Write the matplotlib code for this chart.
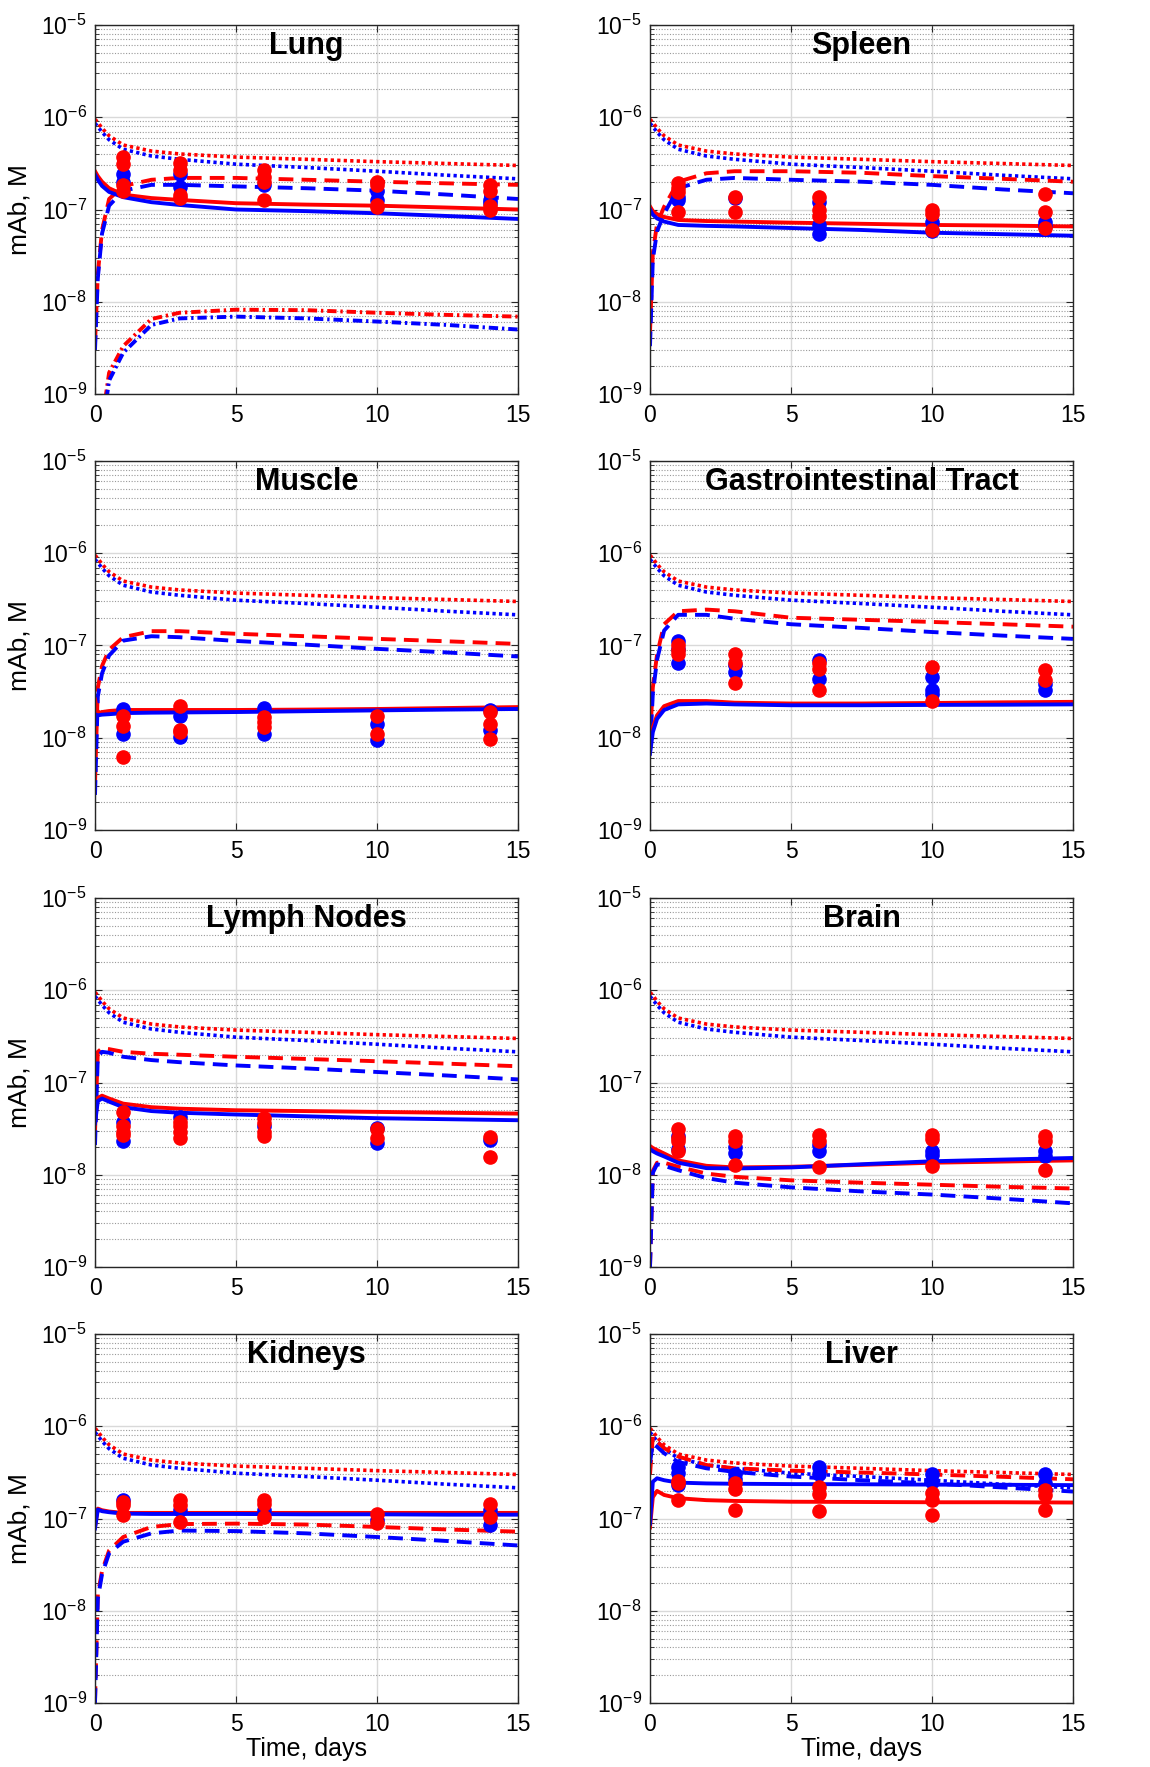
import numpy as np
import matplotlib
matplotlib.use('Agg')
import matplotlib.pyplot as plt
from matplotlib.ticker import FixedLocator, NullFormatter, LogFormatterSciNotation

plt.rcParams['font.family'] = ['Liberation Sans', 'DejaVu Sans']

# model time grid (days) and sampling days
T = [0, 0.1, 0.25, 0.5, 1, 2, 3, 5, 7.5, 10, 12.5, 15]
DAYS = [1, 3, 6, 10, 14]

# plasma (dotted), same in every panel
plasma_red = [9.5e-7, 8.8e-7, 7.6e-7, 6.3e-7, 5.0e-7, 4.3e-7, 4.0e-7, 3.7e-7, 3.5e-7, 3.3e-7, 3.15e-7, 3.0e-7]
plasma_blue = [8.6e-7, 7.9e-7, 6.9e-7, 5.7e-7, 4.5e-7, 3.8e-7, 3.5e-7, 3.1e-7, 2.85e-7, 2.6e-7, 2.35e-7, 2.15e-7]

# Lung
lung_solid_red = [2.6e-7, 2.3e-7, 2.0e-7, 1.7e-7, 1.45e-7, 1.33e-7, 1.27e-7, 1.17e-7, 1.13e-7, 1.1e-7, 1.05e-7, 1.0e-7]
lung_solid_blue = [2.4e-7, 2.1e-7, 1.8e-7, 1.55e-7, 1.36e-7, 1.2e-7, 1.12e-7, 1.0e-7, 9.6e-8, 9.1e-8, 8.5e-8, 7.9e-8]
lung_dash_red = [3.5e-9, 2.0e-8, 6.0e-8, 1.3e-7, 1.8e-7, 2.1e-7, 2.2e-7, 2.2e-7, 2.1e-7, 2.0e-7, 1.92e-7, 1.85e-7]
lung_dash_blue = [3.0e-9, 1.8e-8, 5.5e-8, 1.1e-7, 1.6e-7, 1.85e-7, 1.85e-7, 1.78e-7, 1.7e-7, 1.6e-7, 1.45e-7, 1.3e-7]
lung_dd_red = [1e-12, 5e-11, 5e-10, 1.7e-9, 3.3e-9, 6.5e-9, 7.6e-9, 8.2e-9, 8.1e-9, 7.6e-9, 7.2e-9, 6.9e-9]
lung_dd_blue = [1e-12, 4e-11, 4e-10, 1.4e-9, 2.8e-9, 5.6e-9, 6.6e-9, 6.9e-9, 6.6e-9, 6.1e-9, 5.6e-9, 5.0e-9]
lung_obs_red = [[3.7e-7, 3.1e-7, 1.85e-7, 1.6e-7], [3.2e-7, 2.7e-7, 1.45e-7, 1.33e-7],
                [2.7e-7, 2.27e-7, 2.0e-7, 1.27e-7], [2.0e-7, 1.85e-7, 1.12e-7, 1.06e-7],
                [1.85e-7, 1.6e-7, 1.08e-7, 1.0e-7]]
lung_obs_blue = [[2.4e-7, 2.0e-7], [2.4e-7, 1.77e-7], [1.85e-7], [1.6e-7, 1.27e-7], [1.27e-7, 1.17e-7]]

# Spleen
spleen_solid_red = [1.08e-7, 9.6e-8, 8.9e-8, 8.3e-8, 7.7e-8, 7.5e-8, 7.4e-8, 7.2e-8, 7.0e-8, 6.8e-8, 6.7e-8, 6.55e-8]
spleen_solid_blue = [1.0e-7, 8.8e-8, 8.0e-8, 7.4e-8, 6.8e-8, 6.65e-8, 6.55e-8, 6.3e-8, 6.0e-8, 5.6e-8, 5.4e-8, 5.2e-8]
spleen_dash_red = [4.6e-9, 3.4e-8, 7.0e-8, 1.07e-7, 2.0e-7, 2.47e-7, 2.6e-7, 2.6e-7, 2.5e-7, 2.3e-7, 2.15e-7, 2.0e-7]
spleen_dash_blue = [3.3e-9, 2.85e-8, 5.8e-8, 9.0e-8, 1.7e-7, 2.1e-7, 2.2e-7, 2.1e-7, 2.0e-7, 1.85e-7, 1.65e-7, 1.5e-7]
spleen_obs_red = [[1.95e-7, 1.7e-7, 1.53e-7, 9.5e-8], [1.38e-7, 9.5e-8], [1.38e-7, 1.0e-7, 8.5e-8],
                  [1.0e-7, 9.0e-8, 6.0e-8], [1.48e-7, 9.5e-8, 6.3e-8]]
spleen_obs_blue = [[1.38e-7, 1.27e-7], [1.32e-7], [1.22e-7, 6.8e-8, 5.4e-8], [7.4e-8, 5.8e-8], [7.4e-8, 6.6e-8]]

# Muscle
muscle_solid_red = [2.6e-8, 1.85e-8, 1.9e-8, 1.95e-8, 2.0e-8, 2.0e-8, 2.0e-8, 2.0e-8, 2.02e-8, 2.05e-8, 2.1e-8, 2.15e-8]
muscle_solid_blue = [1.8e-8, 1.75e-8, 1.78e-8, 1.8e-8, 1.85e-8, 1.87e-8, 1.88e-8, 1.9e-8, 1.94e-8, 1.98e-8, 2.02e-8, 2.05e-8]
muscle_dash_red = [3.2e-9, 3.5e-8, 6.0e-8, 9.0e-8, 1.23e-7, 1.43e-7, 1.43e-7, 1.34e-7, 1.26e-7, 1.18e-7, 1.11e-7, 1.04e-7]
muscle_dash_blue = [2.4e-9, 2.8e-8, 5.0e-8, 7.8e-8, 1.13e-7, 1.26e-7, 1.23e-7, 1.12e-7, 1.02e-7, 9.2e-8, 8.4e-8, 7.6e-8]
muscle_obs_red = [[1.7e-8, 1.33e-8, 6.2e-9], [2.2e-8, 1.22e-8, 1.15e-8], [1.68e-8, 1.48e-8, 1.3e-8],
                  [1.7e-8, 1.1e-8], [1.9e-8, 1.4e-8, 9.8e-9]]
muscle_obs_blue = [[2.05e-8, 1.1e-8], [1.7e-8, 1.02e-8], [2.1e-8, 1.1e-8], [1.42e-8, 9.4e-9], [2.0e-8, 1.22e-8]]

# Gastrointestinal Tract
gi_solid_red = [7.9e-9, 1.3e-8, 1.75e-8, 2.2e-8, 2.5e-8, 2.5e-8, 2.4e-8, 2.35e-8, 2.35e-8, 2.38e-8, 2.42e-8, 2.45e-8]
gi_solid_blue = [6.7e-9, 1.15e-8, 1.6e-8, 2.0e-8, 2.3e-8, 2.35e-8, 2.3e-8, 2.25e-8, 2.25e-8, 2.27e-8, 2.28e-8, 2.3e-8]
gi_dash_red = [1.0e-8, 3.5e-8, 8.0e-8, 1.7e-7, 2.35e-7, 2.45e-7, 2.35e-7, 2.0e-7, 1.9e-7, 1.8e-7, 1.7e-7, 1.6e-7]
gi_dash_blue = [7.0e-9, 3.0e-8, 7.0e-8, 1.45e-7, 2.15e-7, 2.15e-7, 1.95e-7, 1.7e-7, 1.55e-7, 1.4e-7, 1.28e-7, 1.18e-7]
gi_obs_red = [[1.0e-7, 9.0e-8, 8.0e-8], [8.0e-8, 6.5e-8, 3.9e-8], [6.5e-8, 5.5e-8, 3.3e-8],
              [5.8e-8, 2.5e-8], [5.4e-8, 4.2e-8]]
gi_obs_blue = [[1.12e-7, 9.1e-8, 6.5e-8], [6.1e-8, 5.1e-8], [7.0e-8, 4.3e-8], [4.6e-8, 3.3e-8, 3.0e-8], [3.8e-8, 3.3e-8]]

# Lymph Nodes
lymph_solid_red = [3.9e-8, 6.8e-8, 7.2e-8, 6.7e-8, 5.9e-8, 5.4e-8, 5.2e-8, 5.0e-8, 4.9e-8, 4.8e-8, 4.7e-8, 4.6e-8]
lymph_solid_blue = [3.6e-8, 6.3e-8, 6.7e-8, 6.2e-8, 5.4e-8, 4.9e-8, 4.7e-8, 4.5e-8, 4.3e-8, 4.1e-8, 4.0e-8, 3.9e-8]
lymph_dash_red = [2.9e-8, 2.15e-7, 2.35e-7, 2.3e-7, 2.15e-7, 2.05e-7, 2.0e-7, 1.9e-7, 1.8e-7, 1.7e-7, 1.6e-7, 1.5e-7]
lymph_dash_blue = [2.1e-8, 1.9e-7, 2.15e-7, 2.1e-7, 1.9e-7, 1.75e-7, 1.66e-7, 1.53e-7, 1.42e-7, 1.3e-7, 1.19e-7, 1.08e-7]
lymph_obs_red = [[4.8e-8, 3.4e-8, 2.9e-8, 2.7e-8], [3.7e-8, 3.4e-8, 2.9e-8, 2.5e-8],
                 [4.1e-8, 3.6e-8, 2.9e-8, 2.65e-8], [3.1e-8, 2.5e-8], [2.55e-8, 1.55e-8]]
lymph_obs_blue = [[3.7e-8, 2.3e-8], [4.2e-8], [3.4e-8], [3.2e-8, 2.2e-8], [2.4e-8]]

# Brain
brain_solid_red = [2.05e-8, 1.95e-8, 1.85e-8, 1.7e-8, 1.43e-8, 1.25e-8, 1.2e-8, 1.22e-8, 1.28e-8, 1.35e-8, 1.39e-8, 1.43e-8]
brain_solid_blue = [1.9e-8, 1.8e-8, 1.7e-8, 1.58e-8, 1.35e-8, 1.18e-8, 1.17e-8, 1.2e-8, 1.3e-8, 1.4e-8, 1.46e-8, 1.52e-8]
brain_dash_red = [1.0e-9, 1.1e-8, 1.35e-8, 1.35e-8, 1.22e-8, 1.03e-8, 9.5e-9, 8.7e-9, 8.2e-9, 7.8e-9, 7.4e-9, 7.1e-9]
brain_dash_blue = [1.0e-9, 1.05e-8, 1.3e-8, 1.25e-8, 1.12e-8, 9.2e-9, 8.2e-9, 7.3e-9, 6.6e-9, 6.1e-9, 5.5e-9, 4.9e-9]
brain_obs_red = [[3.1e-8, 2.5e-8, 2.3e-8, 1.8e-8], [2.6e-8, 2.3e-8, 1.28e-8], [2.7e-8, 2.3e-8, 1.2e-8],
                 [2.7e-8, 2.45e-8, 1.24e-8], [2.65e-8, 2.3e-8, 1.14e-8]]
brain_obs_blue = [[2.65e-8, 1.9e-8], [2.0e-8, 1.7e-8], [2.1e-8, 1.8e-8], [1.83e-8, 1.65e-8], [1.8e-8, 1.6e-8]]

# Kidneys
kidney_solid_red = [8.1e-8, 1.28e-7, 1.23e-7, 1.19e-7, 1.15e-7, 1.15e-7, 1.15e-7, 1.15e-7, 1.15e-7, 1.15e-7, 1.15e-7, 1.15e-7]
kidney_solid_blue = [7.8e-8, 1.25e-7, 1.2e-7, 1.17e-7, 1.13e-7, 1.12e-7, 1.12e-7, 1.12e-7, 1.11e-7, 1.11e-7, 1.1e-7, 1.1e-7]
kidney_dash_red = [1.05e-9, 1.5e-8, 2.7e-8, 4.5e-8, 6.3e-8, 8.1e-8, 8.7e-8, 8.8e-8, 8.6e-8, 8.1e-8, 7.6e-8, 7.2e-8]
kidney_dash_blue = [1.0e-9, 1.35e-8, 2.5e-8, 4.2e-8, 5.6e-8, 6.9e-8, 7.4e-8, 7.3e-8, 6.9e-8, 6.3e-8, 5.7e-8, 5.1e-8]
kidney_obs_red = [[1.5e-7, 1.4e-7, 1.1e-7], [1.58e-7, 1.4e-7, 9.2e-8], [1.6e-7, 1.43e-7, 1.05e-7],
                  [1.13e-7, 9.0e-8], [1.42e-7, 1.05e-7]]
kidney_obs_blue = [[1.58e-7], [1.23e-7], [1.23e-7], [9.6e-8], [1.23e-7, 8.5e-8]]

# Liver
liver_solid_red = [8.0e-8, 1.7e-7, 1.99e-7, 1.8e-7, 1.66e-7, 1.58e-7, 1.55e-7, 1.52e-7, 1.51e-7, 1.5e-7, 1.5e-7, 1.49e-7]
liver_solid_blue = [8.8e-8, 2.5e-7, 2.73e-7, 2.6e-7, 2.45e-7, 2.4e-7, 2.38e-7, 2.36e-7, 2.35e-7, 2.33e-7, 2.32e-7, 2.3e-7]
liver_dash_red = [3.0e-7, 7.7e-7, 6.8e-7, 5.8e-7, 4.7e-7, 3.8e-7, 3.5e-7, 3.3e-7, 3.15e-7, 3.0e-7, 2.83e-7, 2.66e-7]
liver_dash_blue = [4.0e-7, 6.5e-7, 6.0e-7, 5.1e-7, 4.1e-7, 3.5e-7, 3.2e-7, 2.85e-7, 2.6e-7, 2.4e-7, 2.17e-7, 1.96e-7]
liver_obs_red = [[2.55e-7, 2.4e-7, 1.6e-7], [2.4e-7, 2.1e-7, 1.24e-7], [2.2e-7, 1.85e-7, 1.22e-7],
                 [1.9e-7, 1.6e-7, 1.1e-7], [2.05e-7, 1.8e-7, 1.24e-7]]
liver_obs_blue = [[3.6e-7, 3.1e-7, 2.3e-7], [3.05e-7, 2.65e-7], [3.6e-7, 3.05e-7], [3.05e-7, 2.5e-7], [3.0e-7, 2.4e-7]]

panels = [
    ("Lung", lung_solid_red, lung_solid_blue, lung_dash_red, lung_dash_blue, lung_obs_red, lung_obs_blue),
    ("Spleen", spleen_solid_red, spleen_solid_blue, spleen_dash_red, spleen_dash_blue, spleen_obs_red, spleen_obs_blue),
    ("Muscle", muscle_solid_red, muscle_solid_blue, muscle_dash_red, muscle_dash_blue, muscle_obs_red, muscle_obs_blue),
    ("Gastrointestinal Tract", gi_solid_red, gi_solid_blue, gi_dash_red, gi_dash_blue, gi_obs_red, gi_obs_blue),
    ("Lymph Nodes", lymph_solid_red, lymph_solid_blue, lymph_dash_red, lymph_dash_blue, lymph_obs_red, lymph_obs_blue),
    ("Brain", brain_solid_red, brain_solid_blue, brain_dash_red, brain_dash_blue, brain_obs_red, brain_obs_blue),
    ("Kidneys", kidney_solid_red, kidney_solid_blue, kidney_dash_red, kidney_dash_blue, kidney_obs_red, kidney_obs_blue),
    ("Liver", liver_solid_red, liver_solid_blue, liver_dash_red, liver_dash_blue, liver_obs_red, liver_obs_blue),
]

yticks_major = [1e-9, 1e-8, 1e-7, 1e-6, 1e-5]
yticks_minor = [k * 10.0 ** e for e in range(-9, -5) for k in range(2, 10)]

W, H = 1150, 1767
fig = plt.figure(figsize=(W / 100, H / 100), dpi=100)
lefts = [95, 650]
tops = [25, 461, 898, 1334]
aw, ah = 423, 369

lw = 2.8
dash = (0, (3.8, 2.1))
dot = (0, (0.9, 0.9))
dashdot = (0, (2.4, 1.0, 0.6, 1.0))

for i, (name, sr, sb, dr, db, obr, obb) in enumerate(panels):
    row, col = divmod(i, 2)
    ax = fig.add_axes([lefts[col] / W, 1 - (tops[row] + ah) / H, aw / W, ah / H])

    ax.plot(T, plasma_red, color='red', lw=2.6, ls=dot)
    ax.plot(T, plasma_blue, color='blue', lw=2.6, ls=dot)
    ax.plot(T, dr, color='red', lw=lw, ls=dash)
    ax.plot(T, db, color='blue', lw=lw, ls=dash)
    if name == "Lung":
        ax.plot(T, lung_dd_red, color='red', lw=lw, ls=dashdot)
        ax.plot(T, lung_dd_blue, color='blue', lw=lw, ls=dashdot)
    ax.plot(T, sr, color='red', lw=lw)
    ax.plot(T, sb, color='blue', lw=lw)

    for d, vals in zip(DAYS, obb):
        ax.plot([d] * len(vals), vals, 'o', color='blue', ms=9.5, zorder=4)
    for d, vals in zip(DAYS, obr):
        ax.plot([d] * len(vals), vals, 'o', color='red', ms=9.5, zorder=5)

    ax.set_yscale('log')
    ax.set_ylim(1e-9, 1e-5)
    ax.set_xlim(0, 15)
    ax.xaxis.set_major_locator(FixedLocator([0, 5, 10, 15]))
    ax.yaxis.set_major_locator(FixedLocator(yticks_major))
    ax.yaxis.set_major_formatter(LogFormatterSciNotation())
    ax.yaxis.set_minor_locator(FixedLocator(yticks_minor))
    ax.yaxis.set_minor_formatter(NullFormatter())

    ax.grid(True, which='major', axis='both', color='0.85', lw=1.0, ls='-')
    ax.grid(True, which='minor', axis='y', color='0.6', lw=0.8, ls=(0, (1, 1.5)))
    ax.set_axisbelow(True)

    ax.tick_params(which='both', direction='in', top=True, right=True, labelsize=16.5, color='0.15')
    ax.tick_params(which='major', length=5)
    ax.tick_params(which='minor', length=3)
    ax.tick_params(axis='x', pad=7.5)
    ax.tick_params(axis='y', pad=6)
    for sp in ax.spines.values():
        sp.set_color('0.15')
        sp.set_linewidth(1.0)

    ax.text(0.5, 0.985, name, transform=ax.transAxes, ha='center', va='top',
            fontsize=22, fontweight='bold')

    if col == 0:
        ax.set_ylabel('mAb, M', fontsize=19)
        ax.yaxis.set_label_coords(-0.15, 0.5)
    if row == 3:
        ax.set_xlabel('Time, days', fontsize=18)
        ax.xaxis.set_label_coords(0.5, -0.093)

fig.savefig('out.png', dpi=100)
